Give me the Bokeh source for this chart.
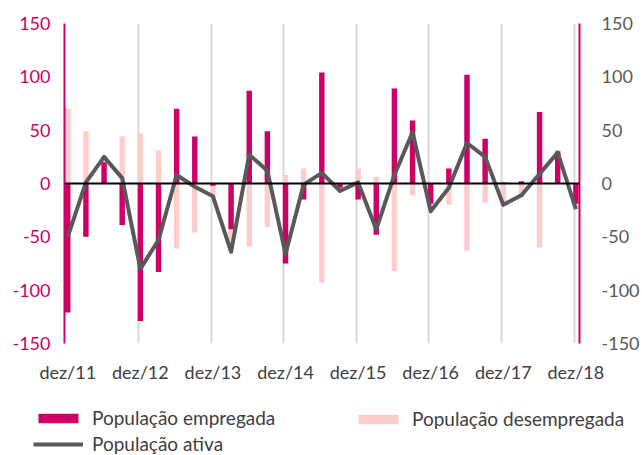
from bokeh.plotting import figure
from bokeh.layouts import column
from bokeh.models import Range1d, LinearAxis, FixedTicker, Span, Legend, LegendItem
from bokeh.embed import file_html
from bokeh.resources import INLINE

# ---- data (variação trimestral, milhares) ----
quarters = ["dez/11", "mar/12", "jun/12", "set/12", "dez/12", "mar/13", "jun/13", "set/13",
            "dez/13", "mar/14", "jun/14", "set/14", "dez/14", "mar/15", "jun/15", "set/15",
            "dez/15", "mar/16", "jun/16", "set/16", "dez/16", "mar/17", "jun/17", "set/17",
            "dez/17", "mar/18", "jun/18", "set/18", "dez/18"]
empregada = [-121, -50, 20, -39, -129, -83, 70, 44, -2, -43, 87, 49, -75, -15, 104, -4,
             -15, -48, 89, 59, -19, 14, 102, 42, 1, 2, 67, 30, -19]
desempregada = [70, 49, 5, 44, 47, 31, -61, -46, -10, -20, -59, -41, 8, 14, -93, -3,
                14, 6, -82, -11, -7, -20, -63, -18, -21, -13, -60, 1, -5]
ativa = [-50, 1, 25, 5, -80, -53, 8, -3, -12, -64, 27, 12, -66, -1, 10, -7,
         1, -43, 8, 48, -26, -4, 38, 25, -20, -11, 9, 29, -24]
y_ticks = [-150, -100, -50, 0, 50, 100, 150]
y_tick_labels = ["-150", "-100", "-50", "0", "50", "100", "150"]

PINK = "#CC0066"
LIGHT = "#FFCCCC"
GREY = "#595959"
TEXT = "#404040"
FONT = "Lato"
FS = "18px"
W = 642

idx = list(range(len(quarters)))
label_pos = [i for i, q in enumerate(quarters) if q.startswith("dez")]

# stacked (Excel style): second series stacks on first only when same sign
des_bottom = [e if (e > 0) == (d > 0) else 0 for e, d in zip(empregada, desempregada)]
des_top = [b + d for b, d in zip(des_bottom, desempregada)]

p = figure(width=W, height=400, output_backend="svg", toolbar_location=None,
           x_range=Range1d(-0.18, 28.2), y_range=Range1d(-150, 150),
           min_border_left=64, min_border_right=62, min_border_top=23, min_border_bottom=57,
           outline_line_color=None, frame_align=False)

# grid
p.ygrid.grid_line_color = None
p.xgrid.ticker = FixedTicker(ticks=[i - 0.1 for i in label_pos[1:]])
p.xgrid.grid_line_color = "#D9D9D9"
p.xgrid.grid_line_width = 2

def style_axis(ax, color, standoff):
    ax.major_tick_line_color = None
    ax.minor_tick_line_color = None
    ax.major_tick_out = 0
    ax.major_tick_in = 0
    ax.minor_tick_out = 0
    ax.minor_tick_in = 0
    ax.major_label_text_font = FONT
    ax.major_label_text_font_size = FS
    ax.major_label_text_color = color
    ax.major_label_standoff = standoff

# x axis
xa = p.xaxis[0]
xa.ticker = FixedTicker(ticks=label_pos)
xa.major_label_overrides = {i: quarters[i] for i in label_pos}
xa.axis_line_color = None
style_axis(xa, TEXT, 17)

# left y axis
ya = p.yaxis[0]
ya.ticker = FixedTicker(ticks=y_ticks)
ya.major_label_overrides = dict(zip(y_ticks, y_tick_labels))
ya.axis_line_color = PINK
ya.axis_line_width = 2
style_axis(ya, PINK, 14)

# right y axis
ra = LinearAxis(ticker=FixedTicker(ticks=y_ticks))
ra.major_label_overrides = dict(zip(y_ticks, y_tick_labels))
ra.axis_line_color = PINK
ra.axis_line_width = 2
style_axis(ra, GREY, 22)
p.add_layout(ra, "right")

# bars
r_des = p.vbar(x=idx, bottom=des_bottom, top=des_top, width=0.3,
               fill_color=LIGHT, line_color=None)
r_emp = p.vbar(x=idx, bottom=0, top=empregada, width=0.3,
               fill_color=PINK, line_color=None)

# zero line
p.add_layout(Span(location=0, dimension="width", line_color="black", line_width=2))

# line
r_line = p.line(idx, ativa, line_color=GREY, line_width=4, line_join="round")

# ---- legend strip (same series, kept outside its visible ranges; only the legend shows) ----
lg = figure(width=W, height=55, output_backend="svg", toolbar_location=None,
            x_range=Range1d(100, 100 + W), y_range=Range1d(300, 355), min_border=0,
            x_axis_location=None, y_axis_location=None, outline_line_color=None,
            frame_align=False)
lg.grid.visible = False
g_emp = lg.vbar(x=idx, bottom=0, top=empregada, width=0.3, fill_color=PINK, line_color=None)
g_des = lg.vbar(x=idx, bottom=des_bottom, top=des_top, width=0.3, fill_color=LIGHT, line_color=None)
g_line = lg.line(idx, ativa, line_color=GREY, line_width=4)

legend_style = dict(label_text_font=FONT, label_text_font_size="19px", label_text_color=TEXT,
                    label_standoff=9, label_height=20, glyph_width=50, glyph_height=12,
                    spacing=3, padding=0, margin=0, border_line_color=None,
                    background_fill_alpha=0)
leg1 = Legend(items=[LegendItem(label="População empregada", renderers=[g_emp]),
                     LegendItem(label="População ativa", renderers=[g_line])],
              location=(33, 0), **legend_style)
leg2 = Legend(items=[LegendItem(label="População desempregada", renderers=[g_des])],
              location=(353, 25), **legend_style)
lg.add_layout(leg1, "center")
lg.add_layout(leg2, "center")

layout = column(p, lg, spacing=0)
open("out.html", "w").write(file_html(layout, INLINE))
